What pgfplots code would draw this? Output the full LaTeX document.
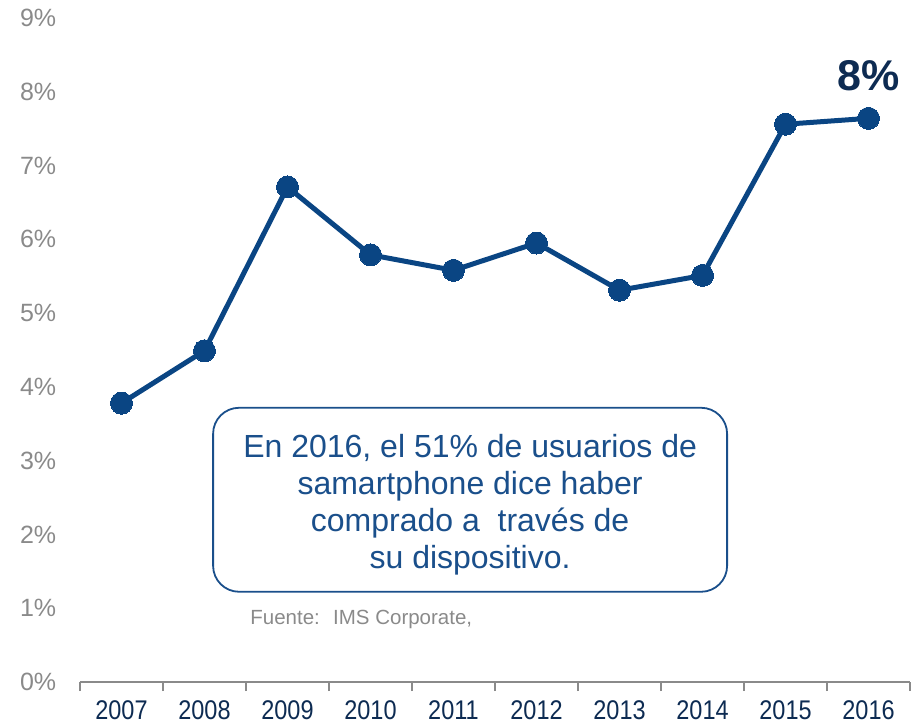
\documentclass[border=0pt]{standalone}
\usepackage{pgfplots}
\pgfplotsset{compat=1.18}
\usepackage{fontspec}
\setmainfont{Liberation Sans}
\newfontfamily\narrowfont[FakeStretch=0.87]{Liberation Sans}
\definecolor{linec}{HTML}{0A4583}
\definecolor{boxc}{HTML}{1A4F8B}
\definecolor{yearc}{HTML}{0D2B52}
\definecolor{greyc}{HTML}{8A8A8A}
\begin{document}
\begin{tikzpicture}
\begin{axis}[
  scale only axis, width=830pt, height=664pt,
  xmin=-0.5, xmax=9.5, ymin=0, ymax=9,
  axis y line*=left, axis x line*=bottom,
  y axis line style={draw=none},
  x axis line style={greyc, line width=1.2pt},
  xtick={0,...,9},
  xticklabels={2007,2008,2009,2010,2011,2012,2013,2014,2015,2016},
  major x tick style={draw=none},
  minor xtick={-0.5,0.5,...,9.5},
  minor x tick style={greyc, line width=1.2pt},
  minor tick length=9pt, tick align=outside,
  x tick label style={font=\narrowfont\fontsize{27}{30}\selectfont, text=yearc, yshift=-11pt},
  ytick={0,...,9},
  major y tick style={draw=none},
  yticklabels={0\%,1\%,2\%,3\%,4\%,5\%,6\%,7\%,8\%,9\%},
  y tick label style={font=\fontsize{25}{28}\selectfont, text=greyc, xshift=-16pt},
  clip=false,
]
\addplot[linec, line width=5pt, mark=*, mark size=11pt, mark options={fill=linec, draw=linec, line width=0pt}]
coordinates {(0,3.78) (1,4.49) (2,6.71) (3,5.79) (4,5.58) (5,5.95) (6,5.31) (7,5.51) (8,7.56) (9,7.64)};
\node[draw=boxc, line width=1.8pt, rounded corners=26pt, minimum width=514pt, minimum height=184pt, fill=white] at (axis cs:4.2,2.47) {};
\node[text=boxc, align=center, font=\fontsize{32}{37}\selectfont, yshift=-5pt] at (axis cs:4.2,2.47) {En 2016, el 51\% de usuarios de\\samartphone dice haber\\comprado a \ través de\\su dispositivo.};
\node[anchor=west, text=greyc, font=\fontsize{20.5}{24}\selectfont, yshift=-2pt] at (axis cs:1.51,0.88) {Fuente: \ IMS Corporate,};
\node[text=yearc, font=\bfseries\fontsize{43}{46}\selectfont] at (axis cs:9.0,8.22) {8\%};
\end{axis}
\pgfresetboundingbox
\path (current axis.south west) ++(-80pt,-42pt) rectangle ([shift={(2pt,18pt)}]current axis.north east);
\end{tikzpicture}
\end{document}
